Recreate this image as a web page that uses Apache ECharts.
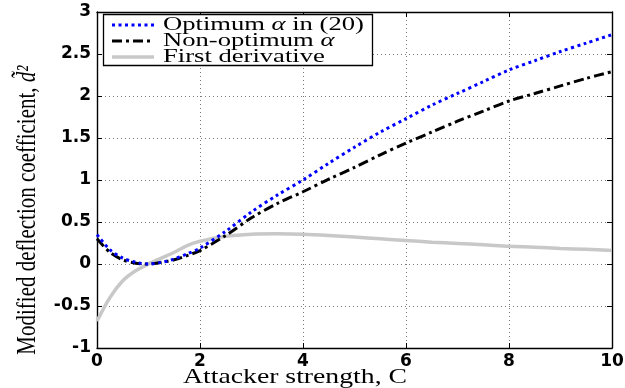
<!DOCTYPE html>
<html>
<head>
<meta charset="utf-8">
<script src="https://cdn.jsdelivr.net/npm/echarts@6/dist/echarts.min.js"></script>
<style>
  html, body { margin: 0; padding: 0; background: #ffffff; }
  #chart { width: 625px; height: 388px; }
</style>
</head>
<body>
<div id="chart"></div>
<script>
// Attacker strength C (x values)
const attackerStrength = [0, 0.25, 0.5, 0.75, 1, 1.25, 1.5, 1.75, 2, 2.5, 3, 3.5, 4, 4.5, 5, 5.5, 6, 6.5, 7, 7.5, 8, 8.5, 9, 9.5, 10];

// Modified deflection coefficient with the optimum alpha
const optimumAlpha = [0.35, 0.17, 0.07, 0.02, 0.0, 0.02, 0.06, 0.12, 0.19, 0.39, 0.62, 0.82, 1.0, 1.20, 1.39, 1.57, 1.73, 1.89, 2.03, 2.17, 2.31, 2.42, 2.53, 2.63, 2.73];

// Modified deflection coefficient with a non-optimum alpha
const nonOptimumAlpha = [0.30, 0.14, 0.05, 0.01, 0.0, 0.02, 0.05, 0.10, 0.16, 0.34, 0.55, 0.72, 0.86, 1.01, 1.15, 1.30, 1.44, 1.57, 1.70, 1.82, 1.94, 2.03, 2.12, 2.21, 2.29];

// First derivative of the optimum curve
const firstDerivative = [-0.68, -0.40, -0.20, -0.08, 0.0, 0.07, 0.14, 0.22, 0.27, 0.33, 0.355, 0.36, 0.355, 0.34, 0.32, 0.30, 0.28, 0.26, 0.245, 0.23, 0.21, 0.20, 0.185, 0.175, 0.16];

// Axis tick values
const xTickValues = [0, 2, 4, 6, 8, 10];
const yTickValues = [-1, -0.5, 0, 0.5, 1, 1.5, 2, 2.5, 3];

const seriesNames = ['Optimum \u03b1 in (20)', 'Non-optimum \u03b1', 'First derivative'];
const xTitle = 'Attacker strength, C';
const yTitle = 'Modified deflection coefficient, ';

const toPairs = ys => attackerStrength.map((x, i) => [x, ys[i]]);

const serif = '"Liberation Serif", "DejaVu Serif", serif';
const sans = '"DejaVu Sans", "Liberation Sans", sans-serif';

const blueDash = [3, 3.5];
const blackDash = [10, 4, 3, 4];

// legend text, with the Greek alpha set in italics
function legendRich(name) {
  const parts = name.split('\u03b1');
  if (parts.length === 1) return '{n|' + name + '}';
  return parts.map(p => p ? '{n|' + p + '}' : '').join('{a|\u03b1}');
}

const legendRows = [
  { y: 25, color: '#0000ff', width: 3, dash: blueDash },
  { y: 41, color: '#000000', width: 3, dash: blackDash },
  { y: 57, color: '#c8c8c8', width: 3.5, dash: null }
];

const graphic = [
  {
    type: 'rect', z: 100,
    shape: { x: 103.5, y: 14.5, width: 269, height: 51 },
    style: { fill: '#ffffff', stroke: '#000000', lineWidth: 1.3 }
  }
];
legendRows.forEach((row, i) => {
  graphic.push({
    type: 'line', z: 101,
    shape: { x1: 112, y1: row.y, x2: 154, y2: row.y },
    style: { stroke: row.color, lineWidth: row.width, lineDash: row.dash }
  });
  graphic.push({
    type: 'text', z: 101,
    x: 163, y: row.y, scaleX: 1.4,
    style: {
      text: legendRich(seriesNames[i]),
      verticalAlign: 'middle', align: 'left',
      rich: {
        n: { fontFamily: serif, fontSize: 19, fill: '#000' },
        a: { fontFamily: serif, fontSize: 19, fontStyle: 'italic', fill: '#000' }
      }
    }
  });
});
// x axis title
graphic.push({
  type: 'text', z: 100,
  x: 295, y: 377, scaleX: 1.32,
  style: {
    text: xTitle, fontFamily: serif, fontSize: 21, fill: '#000',
    align: 'center', verticalAlign: 'middle'
  }
});
// y axis title (reads bottom to top)
graphic.push({
  type: 'text', z: 100,
  x: 28, y: 210, rotation: Math.PI / 2, scaleY: 1.27,
  style: {
    text: '{n|' + yTitle + '}{d|d\u0303\u00b2}',
    align: 'center', verticalAlign: 'middle',
    rich: {
      n: { fontFamily: serif, fontSize: 21, fill: '#000' },
      d: { fontFamily: serif, fontSize: 21, fontStyle: 'italic', fill: '#000' }
    }
  }
});

const axisLineStyle = { color: '#000', width: 1.4 };
const gridLineStyle = { color: '#7a7a7a', width: 1, type: [1, 3] };
const tickLabelStyle = { color: '#000', fontFamily: sans, fontSize: 17, fontWeight: 'bold' };

const option = {
  animation: false,
  backgroundColor: '#ffffff',
  grid: { left: 97, right: 13, top: 12, bottom: 40, containLabel: false, outerBoundsMode: 'none' },
  xAxis: [
    {
      type: 'value', position: 'bottom',
      min: xTickValues[0], max: xTickValues[xTickValues.length - 1],
      interval: xTickValues[1] - xTickValues[0],
      axisLine: { show: true, onZero: false, lineStyle: axisLineStyle },
      axisTick: { show: true, inside: true, length: 5, lineStyle: { color: '#000', width: 1 } },
      axisLabel: Object.assign({ margin: 5 }, tickLabelStyle),
      splitLine: { show: true, lineStyle: gridLineStyle }
    },
    {
      type: 'value', position: 'top',
      min: xTickValues[0], max: xTickValues[xTickValues.length - 1],
      interval: xTickValues[1] - xTickValues[0],
      axisLine: { show: true, onZero: false, lineStyle: axisLineStyle },
      axisTick: { show: true, inside: true, length: 5, lineStyle: { color: '#000', width: 1 } },
      axisLabel: { show: false },
      splitLine: { show: false }
    }
  ],
  yAxis: [
    {
      type: 'value', position: 'left',
      min: yTickValues[0], max: yTickValues[yTickValues.length - 1],
      interval: yTickValues[1] - yTickValues[0],
      axisLine: { show: true, onZero: false, lineStyle: axisLineStyle },
      axisTick: { show: true, inside: true, length: 5, lineStyle: { color: '#000', width: 1 } },
      axisLabel: Object.assign({ margin: 6 }, tickLabelStyle),
      splitLine: { show: true, lineStyle: gridLineStyle }
    },
    {
      type: 'value', position: 'right',
      min: yTickValues[0], max: yTickValues[yTickValues.length - 1],
      interval: yTickValues[1] - yTickValues[0],
      axisLine: { show: true, onZero: false, lineStyle: axisLineStyle },
      axisTick: { show: true, inside: true, length: 5, lineStyle: { color: '#000', width: 1 } },
      axisLabel: { show: false },
      splitLine: { show: false }
    }
  ],
  series: [
    {
      name: seriesNames[2], type: 'line', data: toPairs(firstDerivative),
      showSymbol: false, symbol: 'none', smooth: 0.3,
      lineStyle: { color: '#c8c8c8', width: 3.5, type: 'solid' }, z: 2
    },
    {
      name: seriesNames[1], type: 'line', data: toPairs(nonOptimumAlpha),
      showSymbol: false, symbol: 'none', smooth: 0.3,
      lineStyle: { color: '#000000', width: 3, type: blackDash }, z: 3
    },
    {
      name: seriesNames[0], type: 'line', data: toPairs(optimumAlpha),
      showSymbol: false, symbol: 'none', smooth: 0.3,
      lineStyle: { color: '#0000ff', width: 3, type: blueDash }, z: 4
    }
  ],
  graphic: graphic
};

const chart = echarts.init(document.getElementById('chart'), null, { renderer: 'canvas' });
chart.setOption(option);
</script>
</body>
</html>
